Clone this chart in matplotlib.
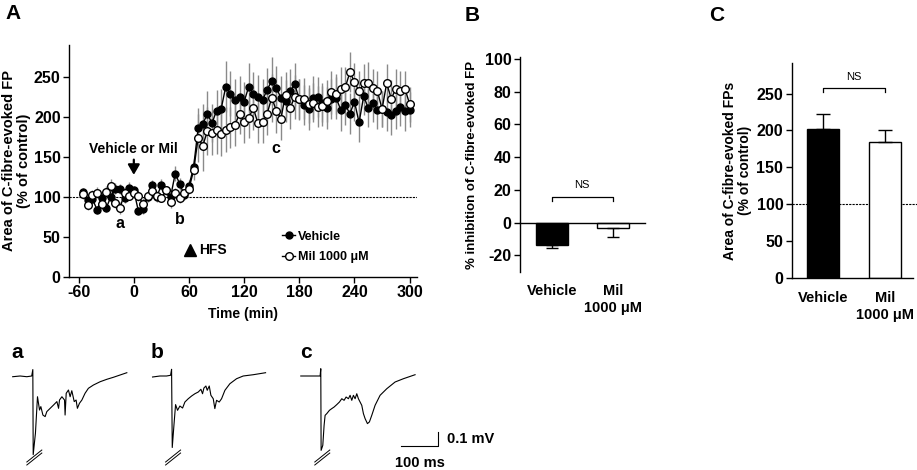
#!/usr/bin/env python
# -*- coding: utf-8 -*-
"""C-fibre-evoked field potentials: time course, inhibition and LTP magnitude"""

import numpy as np
import matplotlib.pyplot as plt

plt.rcParams['font.family'] = ['Liberation Sans', 'DejaVu Sans']
plt.rcParams['font.weight'] = 'bold'
plt.rcParams['axes.labelweight'] = 'bold'
plt.rcParams['axes.unicode_minus'] = False
plt.rcParams['axes.linewidth'] = 1.0

# ---- panel A: time course (mean and SEM, % of control) ----
time_min = np.arange(-55, 305, 5)
vehicle_mean = [106, 96, 97, 84, 98, 86, 100, 110, 110, 98, 111, 108,
                82, 85, 100, 115, 100, 115, 108, 100, 129, 116, 102, 114,
                137, 186, 191, 204, 192, 208, 210, 238, 229, 221, 225, 219,
                238, 229, 225, 221, 234, 245, 236, 224, 220, 232, 241,
                222, 215, 210, 224, 225, 218, 211, 222, 224, 209, 215, 204,
                219, 193, 226, 211, 218, 209, 210, 206, 202, 208, 213, 207, 209]
vehicle_sem = [5, 6, 6, 5, 7, 5, 6, 7, 6, 6, 7, 6, 5, 6, 7, 6, 6, 7, 6, 5, 9, 7, 6, 7,
               10, 25, 25, 28, 24, 26, 25, 32, 28, 27, 26, 25, 30, 27, 28, 26,
               27, 30, 28, 27, 26, 28, 27, 26, 25, 26, 27, 25, 24, 26, 25, 26,
               27, 25, 26, 24, 25, 23, 24, 25, 24, 23, 24, 25, 23, 24, 25, 22]
mil_mean = [103, 90, 102, 105, 91, 106, 114, 92, 86, 105, 101, 105,
            101, 91, 101, 107, 101, 98, 108, 93, 105, 98, 105, 110,
            133, 174, 164, 182, 180, 183, 178, 184, 187, 190, 204, 194,
            199, 211, 192, 193, 204, 224, 208, 198, 228, 211, 225,
            223, 223, 216, 218, 213, 214, 220, 231, 229, 235, 237, 256,
            244, 232, 242, 243, 236, 232, 210, 242, 223, 235, 233, 235, 216]
mil_sem = [6, 7, 6, 7, 6, 7, 8, 6, 7, 6, 5, 6, 6, 7, 6, 7, 6, 5, 6, 7, 6, 6, 5, 6,
           12, 30, 32, 30, 28, 30, 27, 28, 26, 27, 25, 27, 26, 28, 25, 26,
           27, 30, 28, 27, 28, 26, 27, 25, 26, 24, 25, 26, 25, 26, 27, 25,
           28, 26, 25, 24, 25, 24, 26, 24, 25, 23, 24, 23, 25, 24, 23, 22]

# ---- panels B and C: group bars ----
groups = ['Vehicle', 'Mil\n1000 \u03bcM']
inhibition_mean = [-13.5, -3.5]
inhibition_sem = [2.0, 5.3]
area_mean = [202, 184]
area_sem = [20, 16]

# ---- example traces (ms from stimulus, mV) ----
trace_a_t = [-54, -34, -16, -3, 0, 1, 7, 12.5, 18, 21.5, 27, 33, 37.5, 46.5, 55.5,
             64.5, 69, 71.5, 78, 85, 86.5, 89.5, 95.5, 100, 104.5, 111, 116, 119.5,
             125, 131.5, 140, 149, 162.5, 180.5, 198.5, 216, 234, 252]
trace_a_v = [-0.005, 0.0, -0.005, 0.0, 0.045, -0.55, -0.40, -0.145, -0.238, -0.214,
             -0.273, -0.284, -0.249, -0.226, -0.203, -0.179, -0.226, -0.168, -0.145,
             -0.168, -0.273, -0.121, -0.098, -0.145, -0.103, -0.179, -0.168, -0.226,
             -0.191, -0.168, -0.121, -0.086, -0.063, -0.040, -0.023, -0.009, 0.007, 0.023]
trace_b_t = [-51, -31, -13.5, -2.7, 0, 1.8, 6.3, 10.7, 16, 22.3, 29.5, 35.7, 44.7,
             53.6, 62.5, 71.5, 78.6, 83, 86.7, 92, 95.6, 101, 105.4, 111.7, 116,
             120.6, 127.7, 134, 143, 156.3, 174.2, 192, 219, 252]
trace_b_v = [-0.007, 0.0, 0.0, 0.005, 0.047, -0.50, -0.345, -0.200, -0.240, -0.210,
             -0.224, -0.182, -0.159, -0.140, -0.124, -0.112, -0.093, -0.124, -0.084,
             -0.070, -0.100, -0.070, -0.135, -0.159, -0.228, -0.170, -0.182, -0.159,
             -0.100, -0.054, -0.019, 0.0, 0.009, 0.023]
trace_c_t = [-53.6, -28.6, -1.8, 0, 0.9, 5.4, 8.9, 11.6, 16.1, 23.2, 29.5, 35.7, 42.9,
             50, 56.3, 62.5, 67.9, 74.1, 78.6, 83.1, 87.5, 92, 96.5, 100.9, 105.4,
             109.9, 114.3, 118.8, 125.1, 130.4, 136.7, 145.6, 159, 176.9, 199.2,
             221.5, 252.8]
trace_c_v = [0.0, 0.0, 0.0, 0.051, -0.52, -0.485, -0.345, -0.275, -0.263, -0.240,
             -0.228, -0.217, -0.200, -0.182, -0.159, -0.170, -0.147, -0.159, -0.135,
             -0.170, -0.135, -0.159, -0.124, -0.159, -0.182, -0.205, -0.263, -0.298,
             -0.333, -0.321, -0.275, -0.205, -0.135, -0.089, -0.042, -0.019, 0.009]
scale_ms = 100
scale_mv = 0.1

W, H = 917, 470


def px_box(left, top, right, bottom):
    """Axes rectangle from pixel edges (origin top left)"""
    return [left / W, 1 - bottom / H, (right - left) / W, (bottom - top) / H]


def style_axes(axes):
    """Prism-like axes: left/bottom spines only, bold tick labels"""
    axes.spines['top'].set_visible(False)
    axes.spines['right'].set_visible(False)
    axes.tick_params(direction='out', length=4, width=1, labelsize=11.5, pad=2)


fig = plt.figure(figsize=(W / 100, H / 100), dpi=100)

# ================= panel A =================
axA = fig.add_axes(px_box(69, 45, 417, 276.7))
style_axes(axA)
axA.axhline(100, color='black', lw=0.8, ls=(0, (2, 1)), zorder=0)
axA.errorbar(time_min, vehicle_mean, yerr=vehicle_sem, fmt='none',
             ecolor='#8a8a8a', elinewidth=1, zorder=1)
axA.errorbar(time_min, mil_mean, yerr=mil_sem, fmt='none',
             ecolor='#8a8a8a', elinewidth=1, zorder=1)
axA.plot(time_min, vehicle_mean, '-o', color='black', mfc='black', ms=5,
         lw=1, label='Vehicle', zorder=3)
axA.plot(time_min, mil_mean, '-o', color='black', mfc='white', ms=5.5, mew=1,
         lw=1, label='Mil 1000 \u03bcM', zorder=4)
axA.set_xlim(-70.5, 308)
axA.set_ylim(0, 290)
axA.set_xticks([-60, 0, 60, 120, 180, 240, 300])
axA.set_yticks([0, 50, 100, 150, 200, 250])
axA.set_xlabel('Time (min)', fontsize=10, labelpad=5)
axA.set_ylabel('Area of C-fibre-evoked FP\n(% of control)', fontsize=10.5,
               labelpad=2, linespacing=1.1)

# annotations
axA.text(0, 160, 'Vehicle or Mil', ha='center', va='center', fontsize=10)
axA.annotate('', xy=(0, 124), xytext=(0, 150),
             arrowprops=dict(arrowstyle='-|>,head_width=0.35,head_length=0.6',
                             color='black', lw=1.6))
axA.text(-15, 66, 'a', ha='center', va='center', fontsize=11.5)
axA.text(50, 72, 'b', ha='center', va='center', fontsize=11.5)
axA.text(154, 161, 'c', ha='center', va='center', fontsize=11.5)
axA.plot([61], [34], marker='^', color='black', ms=8, clip_on=False)
axA.text(71, 34, 'HFS', ha='left', va='center', fontsize=10)
axA.legend(loc='upper left', bbox_to_anchor=(0.611, 0.199), frameon=False,
           fontsize=9, handlelength=1.1, handletextpad=0.2, labelspacing=0.7,
           borderpad=0, borderaxespad=0, numpoints=1)

# ================= panel B =================
axB = fig.add_axes(px_box(520, 57.3, 645, 271.7))
style_axes(axB)
xpos = np.arange(len(groups))
axB.bar(xpos, inhibition_mean, width=0.52, color=['black', 'white'],
        edgecolor='black', lw=1, zorder=2)
axB.errorbar(xpos, inhibition_mean,
             yerr=[inhibition_sem, [0] * len(groups)], fmt='none',
             ecolor='black', elinewidth=1, capsize=4.5, capthick=1, zorder=3)
axB.set_xlim(-0.52, 1.53)
axB.set_ylim(-30, 101)
axB.set_yticks([-20, 0, 20, 40, 60, 80, 100])
axB.spines['bottom'].set_position(('data', 0))
axB.tick_params(axis='x', length=0, labelbottom=False)
axB.set_ylabel('% inhibition of C-fibre-evoked FP', fontsize=9.5, labelpad=5)
for xi, name in zip(xpos, groups):
    axB.text(xi, -0.057, name, transform=axB.get_xaxis_transform(),
             ha='center', va='top', fontsize=10.5, linespacing=1.25)
# NS bracket
bracket_b = 15.7
axB.plot([0, 0, 1, 1], [bracket_b - 2.7, bracket_b, bracket_b, bracket_b - 2.7],
         color='black', lw=0.9)
axB.text(0.5, bracket_b + 4, 'NS', ha='center', va='bottom', fontsize=8,
         fontweight='normal')

# ================= panel C =================
axC = fig.add_axes(px_box(791.7, 63.3, 913, 277.7))
style_axes(axC)
axC.axhline(100, xmin=0, xmax=1.04, color='black', lw=0.8, ls=(0, (2, 1)),
            clip_on=False, zorder=1)
axC.bar(xpos, area_mean, width=0.51, color=['black', 'white'],
        edgecolor='black', lw=1, zorder=2)
axC.errorbar(xpos, area_mean, yerr=[[0] * len(groups), area_sem], fmt='none',
             ecolor='black', elinewidth=1, capsize=5, capthick=1, zorder=3)
axC.set_xlim(-0.51, 1.45)
axC.set_ylim(0, 291)
axC.set_yticks([0, 50, 100, 150, 200, 250])
axC.tick_params(axis='x', length=0, labelbottom=False)
axC.set_ylabel('Area of C-fibre-evoked FPs\n(% of control)', fontsize=10,
               labelpad=3, linespacing=1.1)
for xi, name in zip(xpos, groups):
    axC.text(xi, -0.062, name, transform=axC.get_xaxis_transform(),
             ha='center', va='top', fontsize=10.5, linespacing=1.25)
bracket_c = 258
axC.plot([0, 0, 1, 1], [bracket_c - 6, bracket_c, bracket_c, bracket_c - 6],
         color='black', lw=0.9)
axC.text(0.5, bracket_c + 7, 'NS', ha='center', va='bottom', fontsize=8,
         fontweight='normal')

# panel letters
fig.text(5 / W, 1 - 4 / H, 'A', fontsize=15, va='top', ha='left')
fig.text(465 / W, 1 - 6 / H, 'B', fontsize=15, va='top', ha='left')
fig.text(709 / W, 1 - 6 / H, 'C', fontsize=15, va='top', ha='left')

# ================= example traces =================
ms_per_px = 100 / 37.3
mv_per_px = 0.1 / 14.3
axT = fig.add_axes(px_box(0, 329, W, H))
axT.axis('off')
axT.set_xlim(0, W * ms_per_px)
axT.set_ylim(-(H - 376) * mv_per_px, (376 - 329) * mv_per_px)

traces = [(trace_a_t, trace_a_v, 'a'), (trace_b_t, trace_b_v, 'b'),
          (trace_c_t, trace_c_v, 'c')]
stim_ms = [88, 460, 860]
for (t_vals, v_vals, name), t0 in zip(traces, stim_ms):
    axT.plot(np.array(t_vals) + t0, v_vals, color='black', lw=0.8)
    # truncation marks on the stimulus artefact
    for shift in (-1.5, 1.5):
        sx = t0 + 1.5 * ms_per_px
        sy = -0.57 + shift * mv_per_px
        axT.plot([sx - 7.5 * ms_per_px, sx + 7.5 * ms_per_px],
                 [sy - 6 * mv_per_px, sy + 6 * mv_per_px], color='black', lw=0.7)
    axT.text(t0 - 21 * ms_per_px, (376 - 353) * mv_per_px, name, fontsize=15,
             ha='left', va='center')

# scale bar
bar_x, bar_y = 438.3 * ms_per_px, -(446 - 376) * mv_per_px
axT.plot([bar_x - scale_ms, bar_x, bar_x], [bar_y, bar_y, bar_y + scale_mv],
         color='black', lw=0.8)
axT.text(bar_x + 9 * ms_per_px, bar_y + scale_mv / 2, '0.1 mV', fontsize=10.5,
         ha='left', va='center')
axT.text(bar_x - scale_ms / 2, bar_y - 17 * mv_per_px, '100 ms', fontsize=10.5,
         ha='center', va='center')

plt.savefig('out.png', dpi=100)
